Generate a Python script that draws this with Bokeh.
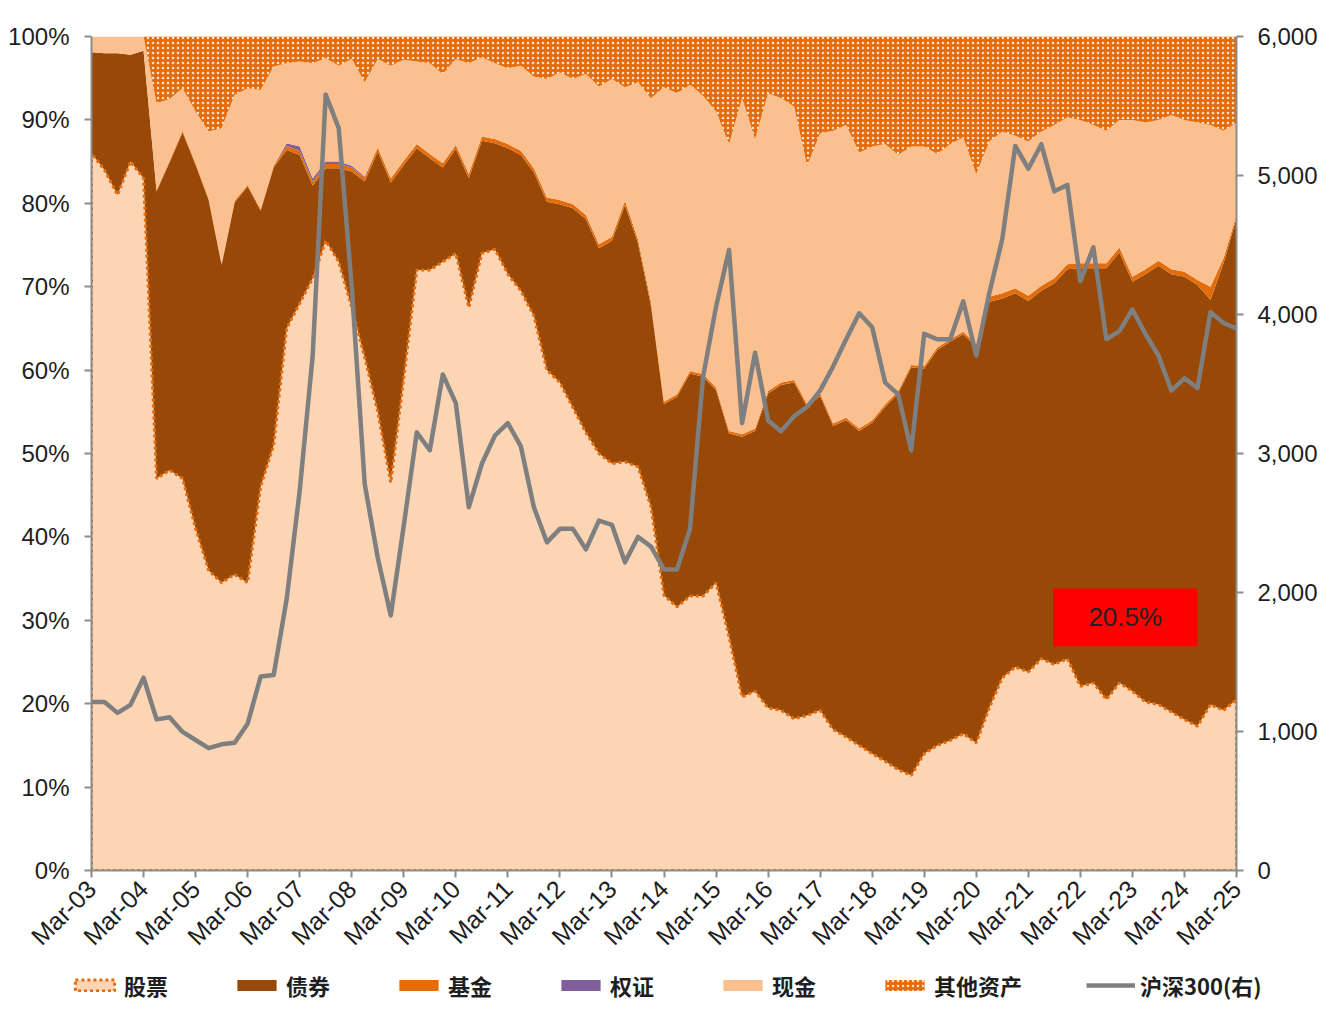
import numpy as np
from bokeh.plotting import figure
from bokeh.layouts import column
from bokeh.models import (Range1d, LinearAxis, FixedTicker, NumeralTickFormatter, Legend,
                          LegendItem, BoxAnnotation, Label, ColumnDataSource)
from bokeh.transform import stack
from bokeh.embed import file_html
from bokeh.resources import INLINE

# ---- categories: quarter ends Mar-03 .. Mar-25 ----
months = ["Mar", "Jun", "Sep", "Dec"]
quarters = [f"{months[k % 4]}-{(3 + k // 4) % 100:02d}" for k in range(89)]

# ---- asset allocation (%) ----
stock = [86, 84, 81, 85, 83, 47, 48, 47, 41, 36, 34.5, 35.5, 34.5, 46, 51, 65, 68, 71, 75.5, 73,
         67.5, 61.5, 55, 46.5, 59, 72, 72, 73, 74, 67.5, 74, 74.5, 71.5, 69.5, 66.5, 60, 58.5, 55.5, 52.5, 50,
         48.8, 49, 48.4, 43.6, 33, 31.6, 32.9, 32.9, 34.5, 28, 20.8, 21.5, 19.5, 19.2, 18.2, 18.6, 19.2, 16.9, 16, 15,
         14, 13.1, 12.1, 11.4, 14, 15, 15.6, 16.4, 15.3, 19.5, 23.1, 24.4, 23.8, 25.4, 24.7, 25.4, 22.1, 22.5, 20.5, 22.5,
         21.5, 20.2, 19.9, 19, 18.1, 17.3, 19.9, 19.2, 20.5]
bond = [12.1, 14, 17, 12.8, 15.3, 34.4, 36.9, 41.5, 43.6, 44.4, 38.1, 44.6, 47.5, 33.1, 33.3, 21.4, 17.8, 11.1, 8.7, 11.2,
        16.3, 21.1, 31.2, 36, 25.6, 14.6, 13.4, 11.3, 12.5, 15.5, 13.5, 12.7, 15.1, 16.3, 17.2, 20.2, 21.4, 23.9, 25.6, 24.6,
        26.7, 30.8, 26.8, 24.1, 22.9, 25.2, 26.7, 26.3, 23.1, 24.4, 31.2, 31.2, 37.7, 39, 40.3, 37, 37.7, 36.4, 38, 37.7,
        39.7, 42.5, 45.1, 48.9, 46.2, 47.4, 47.8, 47.9, 47.5, 48.7, 45.5, 44.8, 44.5, 44.1, 45.7, 46.7, 50.1, 49.7, 51.7, 51.6,
        49.1, 51.3, 52.6, 52.5, 53.1, 52.9, 48.5, 53.6, 57.7]
fund = [0, 0, 0, 0, 0, 0.2, 0.2, 0.2, 0.2, 0.2, 0.2, 0.2, 0.2, 0.2, 0.2, 0.5, 0.5, 0.5, 0.5, 0.5,
        0.5, 0.5, 0.5, 0.5, 0.5, 0.5, 0.5, 0.5, 0.5, 0.5, 0.5, 0.5, 0.5, 0.5, 0.5, 0.5, 0.5, 0.5, 0.5, 0.5,
        0.5, 0.5, 0.5, 0.5, 0.3, 0.3, 0.3, 0.3, 0.3, 0.3, 0.3, 0.3, 0.3, 0.3, 0.3, 0.3, 0.3, 0.3, 0.3, 0.3,
        0.3, 0.3, 0.3, 0.3, 0.3, 0.3, 0.3, 0.3, 0.3, 0.6, 0.6, 0.6, 0.6, 0.6, 0.6, 0.6, 0.6, 0.6, 0.6, 0.6,
        0.6, 0.6, 0.6, 0.6, 0.6, 0.6, 1.6, 0.6, 0.4]
warrant = [0] * 15 + [0.3, 0.5, 0.4, 0.3, 0.3, 0.2, 0.1] + [0] * 67
cash = [1.9, 2, 2, 2.2, 1.7, 10.4, 7.4, 5.1, 6.2, 8, 16.2, 12.7, 11.6, 14.3, 11.9, 9.6, 10.2, 13.8, 12.4, 11.5,
        12.8, 11.3, 10.6, 13.5, 12.1, 9.9, 10.9, 10.7, 10.3, 13.3, 9.5, 9.1, 9.1, 10.2, 11, 14.2, 15.3, 15, 16.9, 18.9,
        18.9, 13.6, 18.8, 24.4, 37.7, 36.1, 34.3, 33.4, 33.1, 34.4, 40.3, 34.7, 35.7, 34.1, 32.8, 28.6, 31.2, 35.1, 35.1, 33.1,
        32.8, 31.2, 28.3, 26.2, 26.3, 23.2, 23.4, 23.3, 20.4, 18.6, 19.4, 18.3, 18.5, 18.5, 18.4, 17.6, 17.2, 16.6, 15.9, 15.3,
        18.8, 17.6, 16.9, 18.5, 18.2, 18.9, 19.4, 15.3, 11.1]
other = [0, 0, 0, 0, 0, 8, 7.5, 6.2, 9, 11.4, 11, 7, 6.2, 6.4, 3.6, 3.2, 3, 3.2, 2.6, 3.5,
         2.7, 5.5, 2.7, 3.5, 2.8, 3, 3.2, 4.5, 2.7, 3.2, 2.5, 3.2, 3.8, 3.5, 4.8, 5.1, 4.3, 5.1, 4.5, 6,
         5.1, 6.1, 5.5, 7.4, 6.1, 6.8, 5.8, 7.1, 9, 12.9, 7.4, 12.3, 6.8, 7.4, 8.4, 15.5, 11.6, 11.3, 10.6, 13.9,
         13.2, 12.9, 14.2, 13.2, 13.2, 14.1, 12.9, 12.1, 16.5, 12.6, 11.4, 11.9, 12.6, 11.4, 10.6, 9.7, 10, 10.6, 11.3, 10,
         10, 10.3, 10, 9.4, 10, 10.3, 10.6, 11.3, 10.3]
hs300 = [1212, 1212, 1134, 1192, 1387, 1087, 1103, 997, 939, 880, 908, 919, 1056, 1395, 1406, 1952, 2731, 3705, 5583, 5341,
         4200, 2780, 2250, 1835, 2482, 3152, 3023, 3569, 3362, 2614, 2926, 3128, 3218, 3051, 2614, 2361, 2458, 2458, 2310, 2517,
         2486, 2217, 2400, 2330, 2166, 2166, 2458, 3549, 4056, 4465, 3218, 3725, 3238, 3160, 3269, 3335, 3452, 3627, 3822, 4009,
         3908, 3510, 3425, 3023, 3861, 3822, 3822, 4095, 3705, 4153, 4543, 5213, 5049, 5225, 4886, 4932, 4239, 4484, 3822, 3880,
         4036, 3861, 3705, 3452, 3541, 3471, 4017, 3939, 3900]

labels = ["股票", "债券", "基金", "权证", "现金", "其他资产", "沪深300(右)"]
pct_ticks = [0, 10, 20, 30, 40, 50, 60, 70, 80, 90, 100]
hs_ticks = [0, 1000, 2000, 3000, 4000, 5000, 6000]
idx_ticks = list(range(0, 89, 4))
callout_text = "20.5%"

FONT = "Liberation Sans"
CJK = "Noto Sans CJK SC"
TXT = "#1E1E1E"
AX = "#8C8C8C"
C_STOCK, C_BOND, C_FUND, C_WARR, C_CASH, C_OTHER, C_LINE = (
    "#FCD5B5", "#984807", "#E46C0A", "#7F5F9A", "#FAC090", "#E46C0A", "#7F7F7F")
HATCH = dict(hatch_pattern="dot", hatch_color="#FFE6D2", hatch_scale=5, hatch_weight=2)
DOTTED = dict(line_color=C_FUND, line_width=3, line_dash="3 3")

x = np.arange(len(quarters))
src = ColumnDataSource(dict(x=x, stock=stock, bond=bond, fund=fund, warrant=warrant,
                            cash=cash, other=other, hs=hs300))

p = figure(width=1332, height=964, output_backend="svg", toolbar_location=None,
           x_range=Range1d(0, len(quarters) - 1), y_range=Range1d(0, 100),
           min_border_left=91, min_border_right=96, min_border_top=36, min_border_bottom=94)
p.frame_align = False
p.outline_line_color = None
p.grid.visible = False
p.background_fill_color = "white"
p.extra_y_ranges = {"hs": Range1d(0, 6000)}

# stock layer (fill + dotted outline)
px = np.concatenate([[x[0]], x, [x[-1]]])
py = np.concatenate([[0], np.array(stock, dtype=float), [0]])
p.patch(px, py, fill_color=C_STOCK, line_color=None)
p.varea(x="x", y1=stack("stock"), y2=stack("stock", "bond"), source=src, fill_color=C_BOND)
p.varea(x="x", y1=stack("stock", "bond"), y2=stack("stock", "bond", "fund"), source=src, fill_color=C_FUND)
p.varea(x="x", y1=stack("stock", "bond", "fund"), y2=stack("stock", "bond", "fund", "warrant"),
        source=src, fill_color=C_WARR)
p.varea(x="x", y1=stack("stock", "bond", "fund", "warrant"),
        y2=stack("stock", "bond", "fund", "warrant", "cash"), source=src, fill_color=C_CASH)
p.varea(x="x", y1=stack("stock", "bond", "fund", "warrant", "cash"),
        y2=stack("stock", "bond", "fund", "warrant", "cash", "other"), source=src,
        fill_color=C_OTHER, **HATCH)
p.patch(px, py, fill_alpha=0, **DOTTED)
p.line(x="x", y="hs", source=src, y_range_name="hs", line_color=C_LINE, line_width=4.5,
       line_join="round")

# callout
p.add_layout(BoxAnnotation(left=73.9, right=85.0, bottom=26.9, top=33.8, fill_color="#FF0000",
                           fill_alpha=1, line_color=None, level="overlay"))
p.add_layout(Label(x=79.45, y=30.35, text=callout_text, text_align="center", text_baseline="middle",
                   text_font=FONT, text_font_size="26px", text_color="#222222", level="overlay"))


def style_axis(a, standoff, size="24px"):
    a.major_label_text_font = FONT
    a.major_label_text_font_size = size
    a.major_label_text_color = TXT
    a.major_label_standoff = standoff
    a.axis_line_color = AX
    a.axis_line_width = 2
    a.major_tick_line_color = AX
    a.major_tick_line_width = 2
    a.major_tick_out = 7
    a.major_tick_in = 0
    a.minor_tick_line_color = None


xa = p.xaxis[0]
xa.ticker = FixedTicker(ticks=idx_ticks)
xa.major_label_overrides = {i: quarters[i] for i in idx_ticks}
xa.major_label_orientation = np.pi / 4
style_axis(xa, 7, "25px")

ya = p.yaxis[0]
ya.ticker = FixedTicker(ticks=pct_ticks)
ya.major_label_overrides = {v: f"{v}%" for v in pct_ticks}
style_axis(ya, 15)

ra = LinearAxis(y_range_name="hs", ticker=FixedTicker(ticks=hs_ticks),
                formatter=NumeralTickFormatter(format="0,0"))
style_axis(ra, 14)
p.add_layout(ra, "right")

# ---- legend strip (separate figure below the chart) ----
lg = figure(width=1332, height=53, output_backend="svg", toolbar_location=None,
            x_axis_type=None, y_axis_type=None, x_range=Range1d(10, 11), y_range=Range1d(10, 11),
            min_border_left=0, min_border_right=0, min_border_top=0, min_border_bottom=0)
lg.frame_align = False
lg.outline_line_color = None
lg.grid.visible = False
# single-point (degenerate, invisible) renderers that only carry the legend styles
g_stock_f = lg.patch(x=[0], y=[0], fill_color=C_STOCK, line_color=None)
g_stock_l = lg.patch(x=[0], y=[0], fill_alpha=0, **DOTTED)
g_bond = lg.varea(x=[0], y1=[0], y2=[0], fill_color=C_BOND)
g_fund = lg.varea(x=[0], y1=[0], y2=[0], fill_color=C_FUND)
g_warr = lg.varea(x=[0], y1=[0], y2=[0], fill_color=C_WARR)
g_cash = lg.varea(x=[0], y1=[0], y2=[0], fill_color=C_CASH)
g_other = lg.varea(x=[0], y1=[0], y2=[0], fill_color=C_OTHER, **HATCH)
g_hs = lg.line(x=[0], y=[0], line_color=C_LINE, line_width=4.5)
rends = [[g_stock_f, g_stock_l], [g_bond], [g_fund], [g_warr], [g_cash], [g_other], [g_hs]]

legend = Legend(items=[LegendItem(label=l, renderers=r) for l, r in zip(labels, rends)],
                orientation="horizontal", location=(70, 16), glyph_width=49, glyph_height=14,
                label_standoff=5, spacing=64, padding=0, margin=0, border_line_alpha=0,
                background_fill_alpha=0, label_text_font=CJK, label_text_font_size="22px",
                label_text_font_style="bold", label_text_color=TXT)
lg.add_layout(legend)

open("out.html", "w").write(file_html(column(p, lg, spacing=0), INLINE))
